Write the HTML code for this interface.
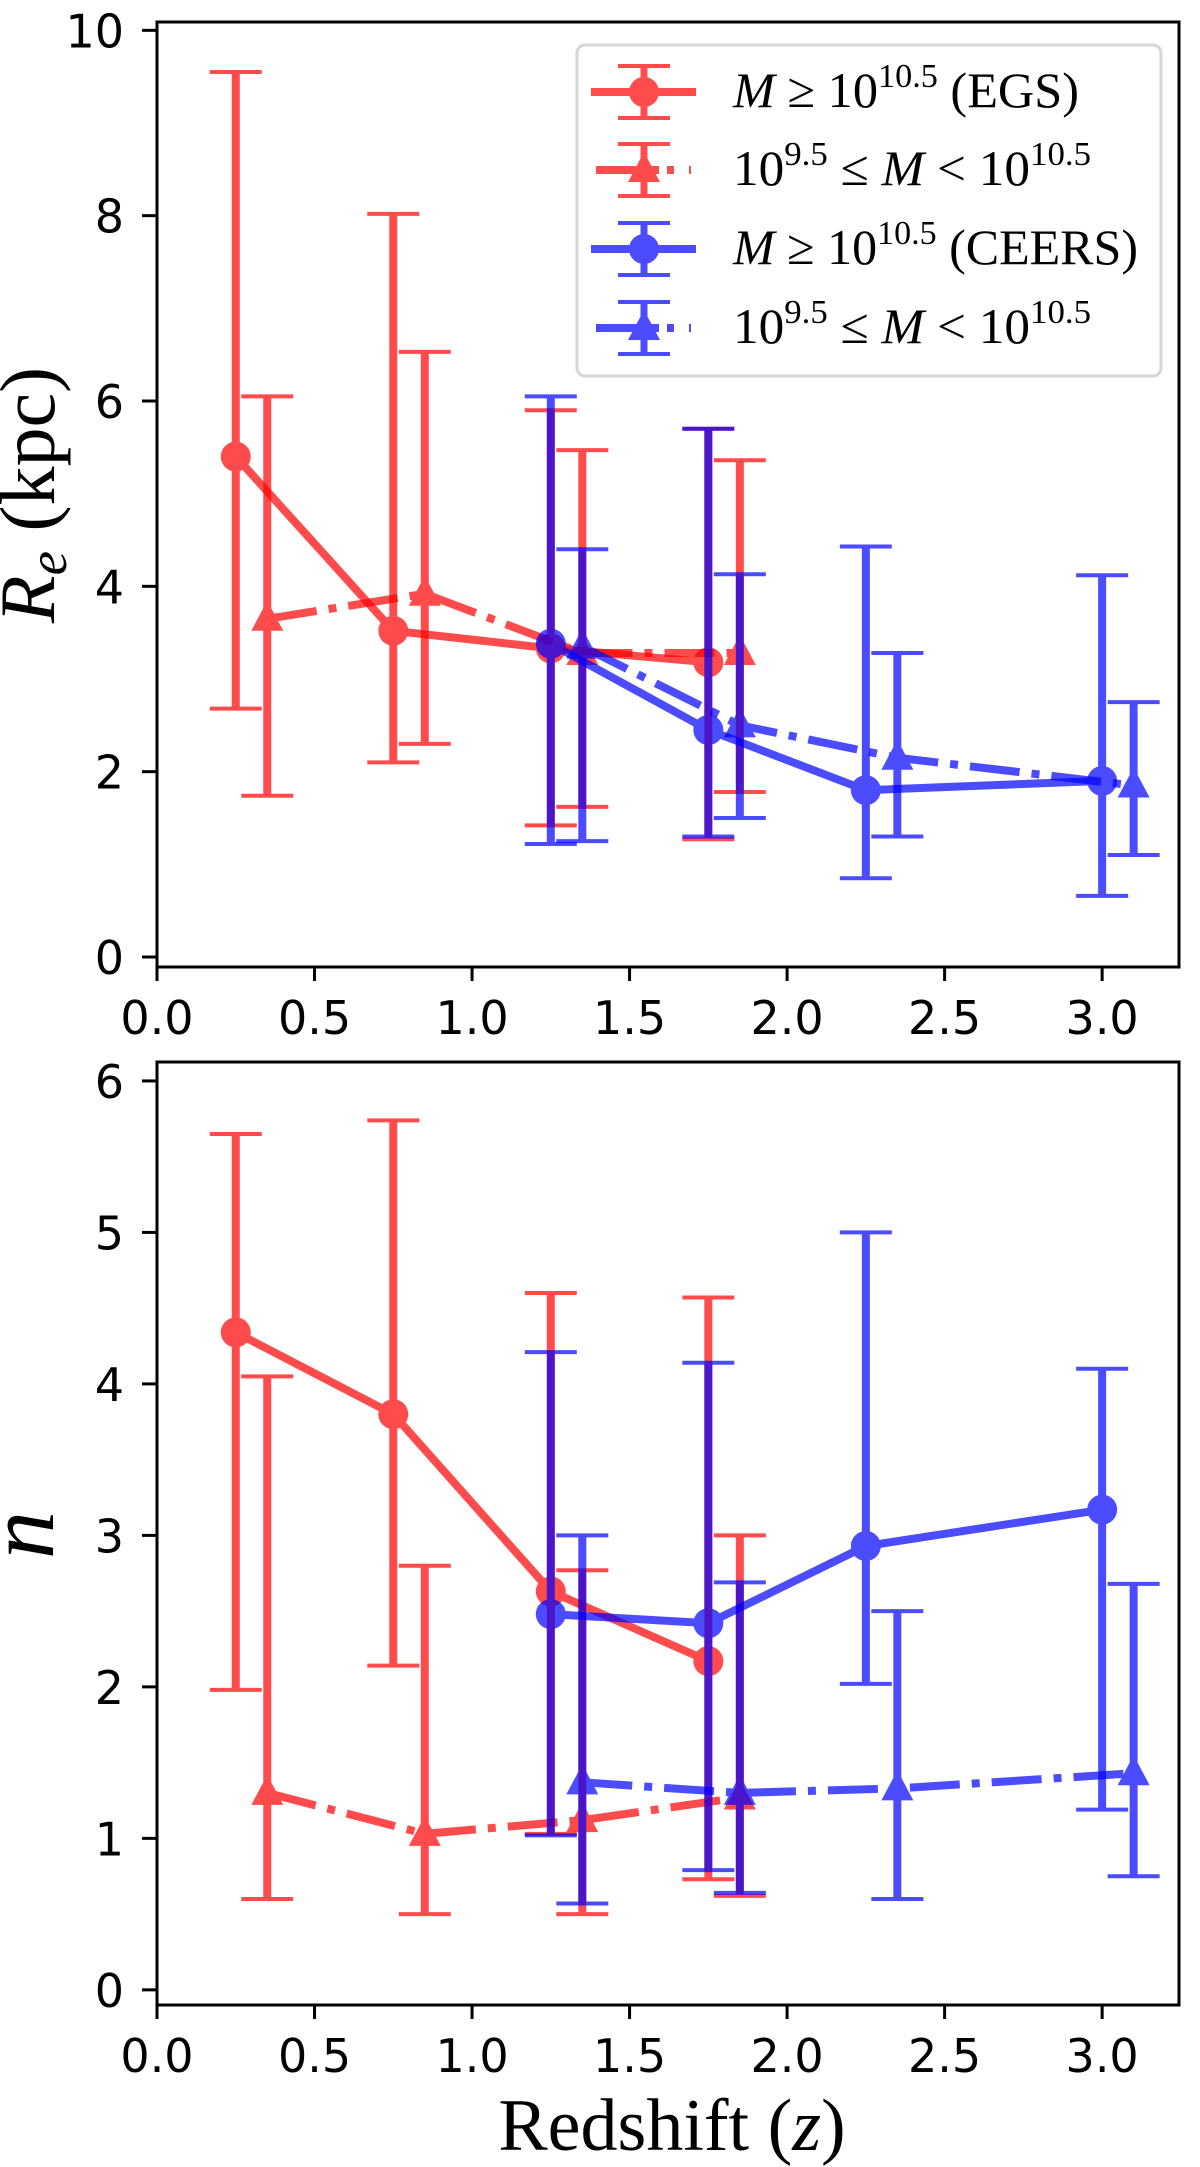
<!DOCTYPE html>
<html><head><meta charset="utf-8"><style>
html,body{margin:0;padding:0;background:#fff}
svg{display:block}
</style></head><body>
<svg id="fig" width="1200" height="2167" viewBox="0 0 1200 2167" xmlns="http://www.w3.org/2000/svg"></svg>
<script>
// ---- data ----
const xEGSHigh = [0.25, 0.75, 1.25, 1.75];
const xEGSLow = [0.35, 0.85, 1.35, 1.85];
const xCEERSHigh = [1.25, 1.75, 2.25, 3.0];
const xCEERSLow = [1.35, 1.85, 2.35, 3.1];

const reEGSHigh = [5.4, 3.52, 3.33, 3.18];
const reEGSHighLo = [2.68, 2.1, 1.42, 1.27];
const reEGSHighHi = [9.55, 8.02, 5.9, 5.7];
const reEGSLow = [3.65, 3.92, 3.28, 3.28];
const reEGSLowLo = [1.74, 2.3, 1.62, 1.78];
const reEGSLowHi = [6.05, 6.53, 5.47, 5.36];
const reCEERSHigh = [3.38, 2.45, 1.8, 1.9];
const reCEERSHighLo = [1.22, 1.3, 0.85, 0.66];
const reCEERSHighHi = [6.05, 5.7, 4.43, 4.12];
const reCEERSLow = [3.35, 2.5, 2.15, 1.85];
const reCEERSLowLo = [1.25, 1.5, 1.3, 1.1];
const reCEERSLowHi = [4.4, 4.13, 3.28, 2.75];

const nEGSHigh = [4.34, 3.8, 2.63, 2.17];
const nEGSHighLo = [1.98, 2.14, 1.03, 0.73];
const nEGSHighHi = [5.65, 5.74, 4.6, 4.57];
const nEGSLow = [1.3, 1.03, 1.12, 1.27];
const nEGSLowLo = [0.6, 0.5, 0.5, 0.62];
const nEGSLowHi = [4.05, 2.8, 2.77, 3.0];
const nCEERSHigh = [2.48, 2.42, 2.93, 3.17];
const nCEERSHighLo = [1.02, 0.79, 2.02, 1.19];
const nCEERSHighHi = [4.21, 4.14, 5.0, 4.1];
const nCEERSLow = [1.37, 1.3, 1.33, 1.43];
const nCEERSLowLo = [0.57, 0.64, 0.6, 0.75];
const nCEERSLowHi = [3.0, 2.69, 2.5, 2.68];

const xTicks = [0.0, 0.5, 1.0, 1.5, 2.0, 2.5, 3.0];
const xTickLabels = ["0.0", "0.5", "1.0", "1.5", "2.0", "2.5", "3.0"];
const reTicks = [0, 2, 4, 6, 8, 10];
const nTicks = [0, 1, 2, 3, 4, 5, 6];

const NS = "http://www.w3.org/2000/svg";
const svg = document.getElementById('fig');
function mk(tag, attrs, parent) {
  const e = document.createElementNS(NS, tag);
  for (const k in attrs) e.setAttribute(k, attrs[k]);
  (parent || svg).appendChild(e);
  return e;
}
const RED = "#ff0000", BLUE = "#0000ff";
const DASHDOT = "50,12,8,12";

function makeAxes(name, top, bottom, ymin, ymax, yTicks) {
  const L = 157, R = 1179;
  const xmin = 0, xmax = 3.244;
  const g = mk('g', {});
  
  
  const sx = v => L + (v - xmin) / (xmax - xmin) * (R - L);
  const sy = v => bottom - (v - ymin) / (ymax - ymin) * (bottom - top);
  return {g, sx, sy, L, R, top, bottom, yTicks};
}

function drawFrame(ax) {
  const {g, sx, sy, L, R, top, bottom, yTicks} = ax;
  const fr = mk('rect', {x: L, y: top, width: R - L, height: bottom - top, fill: 'none', stroke: '#000', 'stroke-width': 3}, g);
  
  
  xTicks.forEach((t, i) => {
    const x = sx(t);
    const tk = mk('line', {x1: x, x2: x, y1: bottom, y2: bottom + 14, stroke: '#000', 'stroke-width': 3}, g);
    
    
    const tl = mk('text', {x: x, y: bottom + 67, 'text-anchor': 'middle', 'font-family': 'DejaVu Sans, sans-serif', 'font-size': 46}, g);
    tl.textContent = xTickLabels[i];
    
    
  });
  yTicks.forEach(t => {
    const y = sy(t);
    const tk = mk('line', {x1: L - 15, x2: L, y1: y, y2: y, stroke: '#000', 'stroke-width': 3}, g);
    
    
    const tl = mk('text', {x: L - 33, y: y + 17, 'text-anchor': 'end', 'font-family': 'DejaVu Sans, sans-serif', 'font-size': 46}, g);
    tl.textContent = String(t);
    
    
  });
}

function series(ax, name, xs, ys, lo, hi, color, marker, dashed) {
  const {g, sx, sy} = ax;
  const sg = mk('g', {opacity: 0.7}, g);
  
  
  xs.forEach((x, i) => {
    const px = sx(x);
    const eb = mk('line', {x1: px, x2: px, y1: sy(lo[i]), y2: sy(hi[i]), stroke: color, 'stroke-width': 8}, sg);
    
    
    [lo[i], hi[i]].forEach(v => {
      const c = mk('line', {x1: px - 26, x2: px + 26, y1: sy(v), y2: sy(v), stroke: color, 'stroke-width': 4}, sg);
      
      
    });
  });
  const pts = xs.map((x, i) => sx(x) + ',' + sy(ys[i])).join(' ');
  const ln = mk('polyline', {points: pts, fill: 'none', stroke: color, 'stroke-width': 8}, sg);
  if (dashed) ln.setAttribute('stroke-dasharray', DASHDOT);
  
  
  xs.forEach((x, i) => {
    const px = sx(x), py = sy(ys[i]);
    let m;
    if (marker === 'o') m = mk('circle', {cx: px, cy: py, r: 15, fill: color}, sg);
    else m = mk('polygon', {points: `${px},${py - 18} ${px - 16},${py + 12} ${px + 16},${py + 12}`, fill: color}, sg);
    
    
  });
}

// top panel
const axTop = makeAxes('re-panel', 22, 967, -0.108, 10.09, reTicks);
series(axTop, 'egs-high-mass-re', xEGSHigh, reEGSHigh, reEGSHighLo, reEGSHighHi, RED, 'o', false);
series(axTop, 'egs-low-mass-re', xEGSLow, reEGSLow, reEGSLowLo, reEGSLowHi, RED, '^', true);
series(axTop, 'ceers-high-mass-re', xCEERSHigh, reCEERSHigh, reCEERSHighLo, reCEERSHighHi, BLUE, 'o', false);
series(axTop, 'ceers-low-mass-re', xCEERSLow, reCEERSLow, reCEERSLowLo, reCEERSLowHi, BLUE, '^', true);
drawFrame(axTop);

// bottom panel
const axBot = makeAxes('n-panel', 1062, 2005, -0.1, 6.125, nTicks);
series(axBot, 'egs-high-mass-n', xEGSHigh, nEGSHigh, nEGSHighLo, nEGSHighHi, RED, 'o', false);
series(axBot, 'egs-low-mass-n', xEGSLow, nEGSLow, nEGSLowLo, nEGSLowHi, RED, '^', true);
series(axBot, 'ceers-high-mass-n', xCEERSHigh, nCEERSHigh, nCEERSHighLo, nCEERSHighHi, BLUE, 'o', false);
series(axBot, 'ceers-low-mass-n', xCEERSLow, nCEERSLow, nCEERSLowLo, nCEERSLowHi, BLUE, '^', true);
drawFrame(axBot);

// legend
const lg = mk('g', {});


mk('rect', {x: 577, y: 45, width: 584, height: 331, rx: 8, fill: '#fff', 'fill-opacity': 0.8, stroke: '#d6d6d6', 'stroke-width': 3}, lg);
const legendLabels = [
  ['<tspan font-style="italic">M</tspan> ≥ 10<tspan dy="-20" font-size="34">10.5</tspan><tspan dy="20"> (EGS)</tspan>', RED, 'o', false, 346],
  ['10<tspan dy="-20" font-size="34">9.5</tspan><tspan dy="20"> ≤ </tspan><tspan font-style="italic">M</tspan> &lt; 10<tspan dy="-20" font-size="34">10.5</tspan>', RED, '^', true, 358],
  ['<tspan font-style="italic">M</tspan> ≥ 10<tspan dy="-20" font-size="34">10.5</tspan><tspan dy="20"> (CEERS)</tspan>', BLUE, 'o', false, 405],
  ['10<tspan dy="-20" font-size="34">9.5</tspan><tspan dy="20"> ≤ </tspan><tspan font-style="italic">M</tspan> &lt; 10<tspan dy="-20" font-size="34">10.5</tspan>', BLUE, '^', true, 358]
];
const legendCy = [92, 170, 249, 328];
legendLabels.forEach((e, i) => {
  const cy = legendCy[i];
  const eg = mk('g', {}, lg);
  
  
  const hg = mk('g', {opacity: 0.7}, eg);
  if (e[3]) {
    mk('line', {x1: 596, x2: 659, y1: cy, y2: cy, stroke: e[1], 'stroke-width': 8}, hg);
    mk('line', {x1: 667, x2: 674, y1: cy, y2: cy, stroke: e[1], 'stroke-width': 8}, hg);
    mk('line', {x1: 689, x2: 691, y1: cy, y2: cy, stroke: e[1], 'stroke-width': 8}, hg);
  } else {
    mk('line', {x1: 591, x2: 696, y1: cy, y2: cy, stroke: e[1], 'stroke-width': 8}, hg);
  }
  mk('line', {x1: 644, x2: 644, y1: cy - 26, y2: cy + 26, stroke: e[1], 'stroke-width': 7}, hg);
  mk('line', {x1: 618, x2: 670, y1: cy - 26, y2: cy - 26, stroke: e[1], 'stroke-width': 4}, hg);
  mk('line', {x1: 618, x2: 670, y1: cy + 26, y2: cy + 26, stroke: e[1], 'stroke-width': 4}, hg);
  if (e[2] === 'o') mk('circle', {cx: 644, cy: cy, r: 15, fill: e[1]}, hg);
  else mk('polygon', {points: `644,${cy - 18} 628,${cy + 12} 660,${cy + 12}`, fill: e[1]}, hg);
  const t = mk('text', {x: 733, y: cy + 15, 'font-family': 'Liberation Serif, serif', 'font-size': 50, textLength: e[4], lengthAdjust: 'spacingAndGlyphs'}, eg);
  t.innerHTML = e[0];
});
</script>
<svg style="position:absolute;left:0;top:0" width="1200" height="2167" xmlns="http://www.w3.org/2000/svg">
  <text transform="translate(54,495) rotate(-90)" text-anchor="middle" font-family="Liberation Serif, serif" font-size="78"><tspan font-style="italic">R</tspan><tspan font-style="italic" font-size="55" dy="12">e</tspan><tspan dy="-12"> (kpc)</tspan></text>
  <text transform="translate(53,1535) rotate(-90)" text-anchor="middle" font-family="Liberation Serif, serif" font-style="italic" font-size="96">n</text>
  <text x="672" y="2150" text-anchor="middle" font-family="Liberation Serif, serif" font-size="74">Redshift (<tspan font-style="italic">z</tspan>)</text>
</svg>
</body></html>
